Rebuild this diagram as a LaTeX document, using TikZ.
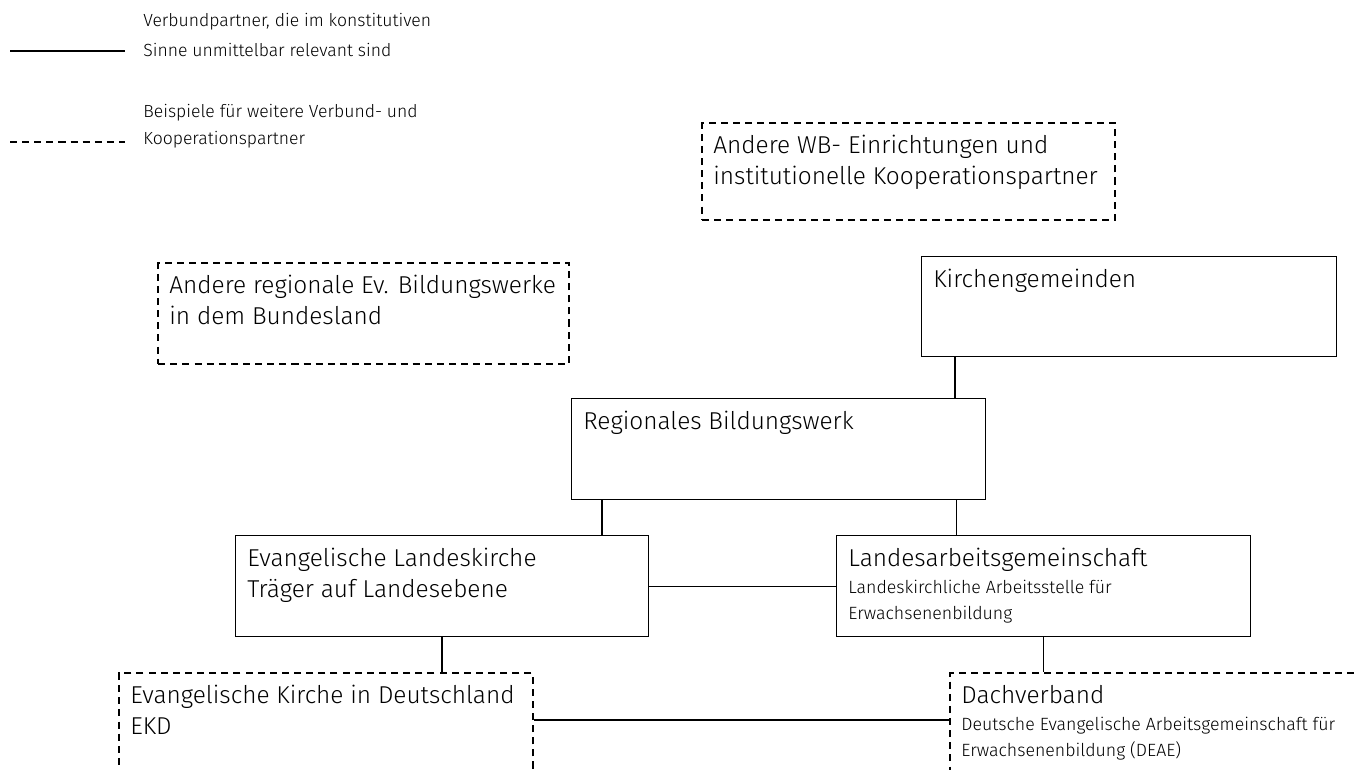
\documentclass[tikz,border=0pt]{standalone}
\usepackage{fontspec}
\setmainfont{Fira Sans}[UprightFont={* Light}]
\usetikzlibrary{calc}

\tikzset{
	partner/.style={draw, line width=0.7pt, minimum width=8.28cm, minimum height=2.02cm, anchor=north west, inner sep=0pt},
	weitere/.style={partner, line width=1.3pt, dash pattern=on 4pt off 2.9pt},
	beschrift/.style={anchor=north west, align=left, inner xsep=0.24cm, inner ysep=0.25cm, font=\fontsize{13.9}{17.6}\selectfont},
	legende/.style={anchor=west, align=left, inner sep=0pt, font=\fontsize{10}{17}\selectfont},
	verbindung/.style={line width=0.7pt},
}
\newcommand\klein{\fontsize{10.1}{15}\selectfont}

\begin{document}
\begin{tikzpicture}[x=0.02cm, y=-0.02cm]
	\useasboundingbox (0,0) rectangle (1356,769);
	\clip (0,0) rectangle (1356,769);

	% Legende
	\coordinate (l1a) at (10,51);
	\coordinate (l1b) at (125,51);
	\coordinate (l2a) at (10,142);
	\coordinate (l2b) at (125,142);
	\draw[verbindung] (l1a) -- (l1b);
	\draw[line width=1.5pt, dash pattern=on 4pt off 2.9pt] (l2a) -- (l2b);
	\node[legende] (leg1) at (143,35) {Verbundpartner, die im konstitutiven\\Sinne unmittelbar relevant sind};
	\node[legende] (leg2) at (143,126) {Beispiele für weitere Verbund- und\\[-2pt]Kooperationspartner};

	% Kästen
	\node[weitere, minimum width=8.26cm, minimum height=1.94cm] (wb) at (701,122) {};
	\node[weitere, minimum width=8.22cm] (reg) at (157,262) {};
	\node[partner, minimum width=8.3cm, minimum height=2cm] (kg) at (921,256) {};
	\node[partner] (rbw) at (571,398) {};
	\node[partner, minimum width=8.26cm] (elk) at (235,535) {};
	\node[partner] (lag) at (836,535) {};
	\node[weitere, minimum height=2.6cm] (ekd) at (118,672) {};
	\node[weitere, minimum width=8.8cm, minimum height=2.6cm] (dach) at (949,672) {};

	\node[beschrift] (wbt) at (wb.north west) {Andere WB- Einrichtungen und\\institutionelle Kooperationspartner};
	\node[beschrift] (regt) at (reg.north west) {Andere regionale Ev. Bildungswerke\\in dem Bundesland};
	\node[beschrift] (kgt) at (kg.north west) {Kirchengemeinden};
	\node[beschrift] (rbwt) at (rbw.north west) {Regionales Bildungswerk};
	\node[beschrift] (elkt) at (elk.north west) {Evangelische Landeskirche\\Träger auf Landesebene};
	\node[beschrift] (lagt) at (lag.north west) {Landesarbeitsgemeinschaft\\[-2pt]\klein Landeskirchliche Arbeitsstelle für\\[-2.8pt]\klein Erwachsenenbildung};
	\node[beschrift] (ekdt) at (ekd.north west) {Evangelische Kirche in Deutschland\\EKD};
	\node[beschrift] (dacht) at (dach.north west) {Dachverband\\[-2pt]\klein Deutsche Evangelische Arbeitsgemeinschaft für\\[-2.8pt]\klein Erwachsenenbildung (DEAE)};

	% Verbindungen
	\draw[verbindung] ([xshift=0.68cm]kg.south west) -- ([xshift=0.68cm]kg.south west |- rbw.north);
	\draw[verbindung] ([xshift=0.62cm]rbw.south west) -- ([xshift=0.62cm]rbw.south west |- elk.north);
	\draw[verbindung] ([xshift=-0.6cm]rbw.south east) -- ([xshift=-0.6cm]rbw.south east |- lag.north);
	\draw[verbindung] (elk.east) -- (lag.west);
	\draw[verbindung] (elk.south) -- (elk.south |- ekd.north);
	\draw[verbindung] (lag.south) -- (lag.south |- dach.north);
	\draw[verbindung] ([yshift=-0.96cm]ekd.north east) -- ([yshift=-0.96cm]ekd.north east -| dach.west);
\end{tikzpicture}
\end{document}
